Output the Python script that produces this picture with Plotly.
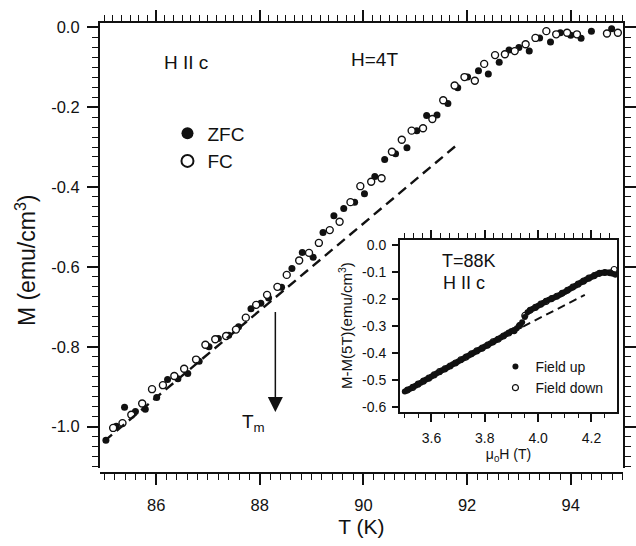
import plotly.graph_objects as go

# Magnetization vs temperature at H = 4 T, H || c
zfc_T = [85.03, 85.23, 85.39, 85.60, 85.79, 86.01, 86.22, 86.42, 86.61, 86.83,
         87.02, 87.20, 87.40, 87.59, 87.83, 88.02, 88.17, 88.42, 88.62, 88.82,
         89.03, 89.22, 89.43, 89.62, 89.83, 90.02, 90.22, 90.41, 90.62, 90.84,
         91.03, 91.22, 91.42, 91.63, 91.82, 92.01, 92.22, 92.41, 92.62, 92.81,
         93.00, 93.20, 93.40, 93.61, 93.80, 94.00, 94.20, 94.40, 94.79]
zfc_M = [-1.034, -0.999, -0.951, -0.962, -0.956, -0.927, -0.882, -0.880, -0.867, -0.836,
         -0.800, -0.779, -0.771, -0.750, -0.705, -0.691, -0.678, -0.651, -0.604, -0.564,
         -0.576, -0.514, -0.472, -0.454, -0.438, -0.417, -0.374, -0.331, -0.317, -0.302,
         -0.259, -0.221, -0.220, -0.191, -0.152, -0.125, -0.109, -0.117, -0.088, -0.057,
         -0.051, -0.060, -0.027, -0.037, -0.014, -0.020, -0.028, -0.010, -0.004]

fc_T = [85.17, 85.35, 85.52, 85.73, 85.92, 86.13, 86.35, 86.54, 86.77, 86.95,
        87.14, 87.35, 87.54, 87.73, 87.93, 88.14, 88.34, 88.52, 88.76, 88.95,
        89.14, 89.35, 89.54, 89.75, 89.94, 90.15, 90.35, 90.55, 90.74, 90.93,
        91.15, 91.33, 91.54, 91.76, 91.95, 92.15, 92.33, 92.54, 92.73, 92.92,
        93.13, 93.32, 93.53, 93.72, 93.93, 94.12, 94.70, 94.91]
fc_M = [-1.003, -0.991, -0.970, -0.942, -0.906, -0.896, -0.873, -0.855, -0.832, -0.795,
        -0.781, -0.773, -0.757, -0.727, -0.695, -0.670, -0.650, -0.620, -0.584, -0.565,
        -0.540, -0.508, -0.487, -0.438, -0.398, -0.387, -0.378, -0.312, -0.282, -0.259,
        -0.253, -0.230, -0.183, -0.146, -0.125, -0.134, -0.092, -0.070, -0.068, -0.060,
        -0.043, -0.027, -0.010, -0.018, -0.014, -0.018, -0.016, -0.014]

# Linear extrapolation of the low-temperature magnetization
fit_T = [85.0, 91.83]
fit_M = [-1.036, -0.292]

# Melting temperature
T_M = 88.3
T_M_ARROW_M = [-0.709, -0.963]

# Inset: field sweep at T = 88 K
up_H = [3.50, 3.51, 3.52, 3.53, 3.54, 3.55, 3.56, 3.57, 3.58, 3.59,
        3.60, 3.61, 3.62, 3.63, 3.64, 3.65, 3.66, 3.67, 3.68, 3.69,
        3.70, 3.71, 3.72, 3.73, 3.74, 3.75, 3.76, 3.77, 3.78, 3.79,
        3.80, 3.81, 3.82, 3.83, 3.84, 3.85, 3.86, 3.87, 3.88, 3.89,
        3.90, 3.91, 3.92, 3.93, 3.94, 3.95, 3.96, 3.97, 3.98, 3.99,
        4.00, 4.01, 4.02, 4.03, 4.04, 4.05, 4.06, 4.07, 4.08, 4.09,
        4.10, 4.11, 4.12, 4.13, 4.14, 4.15, 4.16, 4.17, 4.18, 4.19,
        4.20, 4.21, 4.22, 4.23, 4.24, 4.25, 4.26, 4.27, 4.28, 4.29]
up_M = [-0.543, -0.538, -0.533, -0.527, -0.522, -0.516, -0.511, -0.505, -0.499, -0.494,
        -0.488, -0.482, -0.476, -0.471, -0.465, -0.460, -0.455, -0.449, -0.443, -0.438,
        -0.432, -0.427, -0.421, -0.415, -0.410, -0.405, -0.399, -0.394, -0.388, -0.383,
        -0.377, -0.372, -0.366, -0.361, -0.355, -0.349, -0.344, -0.338, -0.332, -0.326,
        -0.320, -0.318, -0.309, -0.298, -0.287, -0.268, -0.250, -0.243, -0.237, -0.232,
        -0.226, -0.221, -0.215, -0.209, -0.204, -0.200, -0.196, -0.191, -0.186, -0.180,
        -0.175, -0.169, -0.163, -0.158, -0.152, -0.146, -0.140, -0.135, -0.129, -0.124,
        -0.120, -0.115, -0.110, -0.106, -0.104, -0.103, -0.103, -0.105, -0.108, -0.111]

down_H = [3.51, 3.53, 3.55, 3.57, 3.59, 3.61, 3.63, 3.65, 3.67, 3.69,
          3.71, 3.73, 3.75, 3.77, 3.79, 3.81, 3.83, 3.85, 3.87, 3.89,
          3.91, 3.93, 3.95, 3.97, 3.99, 4.01, 4.03, 4.05, 4.07, 4.09,
          4.11, 4.13, 4.15, 4.17, 4.19, 4.21, 4.23, 4.25, 4.27, 4.285]
down_M = [-0.538, -0.528, -0.516, -0.505, -0.494, -0.482, -0.470, -0.460, -0.449, -0.438,
          -0.426, -0.416, -0.404, -0.393, -0.383, -0.372, -0.360, -0.350, -0.338, -0.327,
          -0.318, -0.300, -0.262, -0.243, -0.232, -0.220, -0.210, -0.200, -0.191, -0.180,
          -0.169, -0.157, -0.146, -0.135, -0.124, -0.115, -0.106, -0.103, -0.104, -0.092]

inset_fit_H = [3.90, 4.175]
inset_fit_M = [-0.325, -0.186]

# Tick labels
main_x_ticks = [86, 88, 90, 92, 94]
main_y_ticks = [0.0, -0.2, -0.4, -0.6, -0.8, -1.0]
inset_x_ticks = [3.6, 3.8, 4.0, 4.2]
inset_y_ticks = [0.0, -0.1, -0.2, -0.3, -0.4, -0.5, -0.6]

W, H = 636, 546
FONT = "Liberation Sans, Arial, Helvetica, sans-serif"
INK = "#111111"


def fx(px):
    return px / W


def fy(py):
    return 1 - py / H


def labels(values, fmt):
    # plain hyphen-minus for negative numbers
    return [format(v, fmt).replace("\u2212", "-") if v != 0 else format(0.0, fmt)
            for v in values]


fig = go.Figure()

# main panel
fig.add_trace(go.Scatter(
    x=fit_T, y=fit_M, xaxis="x3", yaxis="y", mode="lines",
    line=dict(color=INK, width=2.4, dash="10px,6px"), showlegend=False,
    hoverinfo="skip"))
fig.add_trace(go.Scatter(
    x=zfc_T, y=zfc_M, xaxis="x", yaxis="y", mode="markers", name="ZFC",
    marker=dict(symbol="circle", size=7, color=INK, line=dict(width=0)),
    legend="legend"))
fig.add_trace(go.Scatter(
    x=fc_T, y=fc_M, xaxis="x", yaxis="y", mode="markers", name="FC",
    marker=dict(symbol="circle", size=7, color="white", line=dict(width=1.4, color=INK)),
    legend="legend"))

# inset panel
fig.add_trace(go.Scatter(
    x=inset_fit_H, y=inset_fit_M, xaxis="x4", yaxis="y2", mode="lines",
    line=dict(color=INK, width=2, dash="8px,5px"), showlegend=False,
    hoverinfo="skip"))
fig.add_trace(go.Scatter(
    x=up_H, y=up_M, xaxis="x2", yaxis="y2", mode="markers", name="Field up",
    marker=dict(symbol="circle", size=6, color=INK, line=dict(width=0)),
    legend="legend2"))
fig.add_trace(go.Scatter(
    x=down_H, y=down_M, xaxis="x2", yaxis="y2", mode="markers", name="Field down",
    marker=dict(symbol="circle-open", size=6, color=INK, line=dict(width=1.2)),
    legend="legend2"))

axis_common = dict(showgrid=False, zeroline=False, showline=True, linecolor=INK,
                   linewidth=1.5, ticks="outside", tickcolor=INK, tickwidth=1.5)

fig.update_layout(
    width=W, height=H,
    margin=dict(l=0, r=0, t=0, b=0),
    paper_bgcolor="white", plot_bgcolor="white",
    font=dict(family=FONT, color=INK),
    xaxis=dict(
        **axis_common, domain=[fx(100), fx(625)], anchor="free", position=fy(475),
        range=[84.91, 95.01], tickmode="array", tickvals=main_x_ticks,
        ticktext=[str(v) for v in main_x_ticks], ticklen=11,
        tickfont=dict(size=16.5), ticklabelstandoff=6,
        minor=dict(tickmode="linear", tick0=85, dtick=0.2, ticklen=6,
                   ticks="outside", tickcolor=INK, tickwidth=1.3),
        title=dict(text="T (K)", font=dict(size=21), standoff=6)),
    xaxis3=dict(
        **axis_common, overlaying="x", side="top", anchor="y",
        range=[84.91, 95.01], tickmode="array", tickvals=main_x_ticks,
        ticklen=11, showticklabels=False,
        minor=dict(tickmode="linear", tick0=86, dtick=1 / 6, ticklen=6,
                   ticks="outside", tickcolor=INK, tickwidth=1.3)),
    yaxis=dict(
        **axis_common, domain=[fy(470), fy(18)], anchor="x", mirror="ticks",
        range=[-1.1036, 0.011], tickmode="array", tickvals=main_y_ticks,
        ticktext=labels(main_y_ticks, ".1f"), ticklen=11,
        tickfont=dict(size=16.5), ticklabelstandoff=4,
        minor=dict(tickmode="linear", tick0=0, dtick=0.025, ticklen=6,
                   ticks="outside", tickcolor=INK, tickwidth=1.3)),
    xaxis2=dict(
        **axis_common, domain=[fx(401), fx(619.3)], anchor="y2",
        range=[3.481, 4.297], tickmode="array", tickvals=inset_x_ticks,
        ticktext=labels(inset_x_ticks, ".1f"), ticklen=9,
        tickfont=dict(size=14), ticklabelstandoff=4,
        minor=dict(tickmode="linear", tick0=3.5, dtick=0.05, ticklen=5,
                   ticks="outside", tickcolor=INK, tickwidth=1.3),
        title=dict(text="μ<sub>0</sub>H (T)", font=dict(size=14), standoff=0)),
    xaxis4=dict(
        **axis_common, overlaying="x2", side="top", anchor="y2",
        range=[3.481, 4.297], tickmode="array", tickvals=inset_x_ticks,
        ticklen=8, showticklabels=False,
        minor=dict(tickmode="linear", tick0=3.6, dtick=0.2 / 6, ticklen=5,
                   ticks="outside", tickcolor=INK, tickwidth=1.3)),
    yaxis2=dict(
        **axis_common, domain=[fy(412.7), fy(238)], anchor="x2", mirror=True,
        range=[-0.618, 0.019], tickmode="array", tickvals=inset_y_ticks,
        ticktext=labels(inset_y_ticks, ".1f"), ticklen=6,
        tickfont=dict(size=14), ticklabelstandoff=3,
        title=dict(text="M-M(5T)(emu/cm<sup>3</sup>)", font=dict(size=15), standoff=6)),
    legend=dict(
        x=fx(168), y=fy(111), xanchor="left", yanchor="top",
        font=dict(size=19), itemsizing="constant", bgcolor="rgba(0,0,0,0)",
        borderwidth=0, tracegroupgap=0, itemwidth=30),
    legend2=dict(
        x=fx(497), y=fy(351), xanchor="left", yanchor="top",
        font=dict(size=14), itemsizing="trace", bgcolor="rgba(0,0,0,0)",
        borderwidth=0, tracegroupgap=0, itemwidth=30),
)

# y-axis title of the main panel
fig.add_annotation(x=fx(26), y=fy(259), xref="paper", yref="paper",
                   text="M (emu/cm<sup>3</sup>)", textangle=-90, showarrow=False,
                   xanchor="center", yanchor="middle", font=dict(size=23))

# panel labels
fig.add_annotation(x=86.12, y=-0.0875, xref="x", yref="y", text="H II c",
                   showarrow=False, xanchor="left", yanchor="middle",
                   font=dict(size=19))
fig.add_annotation(x=89.72, y=-0.080, xref="x", yref="y", text="H=4T",
                   showarrow=False, xanchor="left", yanchor="middle",
                   font=dict(size=19))
fig.add_annotation(x=87.61, y=-0.99, xref="x", yref="y", text="T<sub>m</sub>",
                   showarrow=False, xanchor="left", yanchor="middle",
                   font=dict(size=19))
# arrow marking T_m
fig.add_annotation(x=T_M, y=T_M_ARROW_M[1], ax=T_M, ay=T_M_ARROW_M[0],
                   xref="x", yref="y", axref="x", ayref="y", text="",
                   showarrow=True, arrowhead=2, arrowsize=2, arrowwidth=1.5,
                   arrowcolor=INK)

fig.add_annotation(x=3.631, y=-0.061, xref="x2", yref="y2", text="T=88K",
                   showarrow=False, xanchor="left", yanchor="middle",
                   font=dict(size=18))
fig.add_annotation(x=3.635, y=-0.141, xref="x2", yref="y2", text="H II c",
                   showarrow=False, xanchor="left", yanchor="middle",
                   font=dict(size=18))

fig.write_html("out.html")
